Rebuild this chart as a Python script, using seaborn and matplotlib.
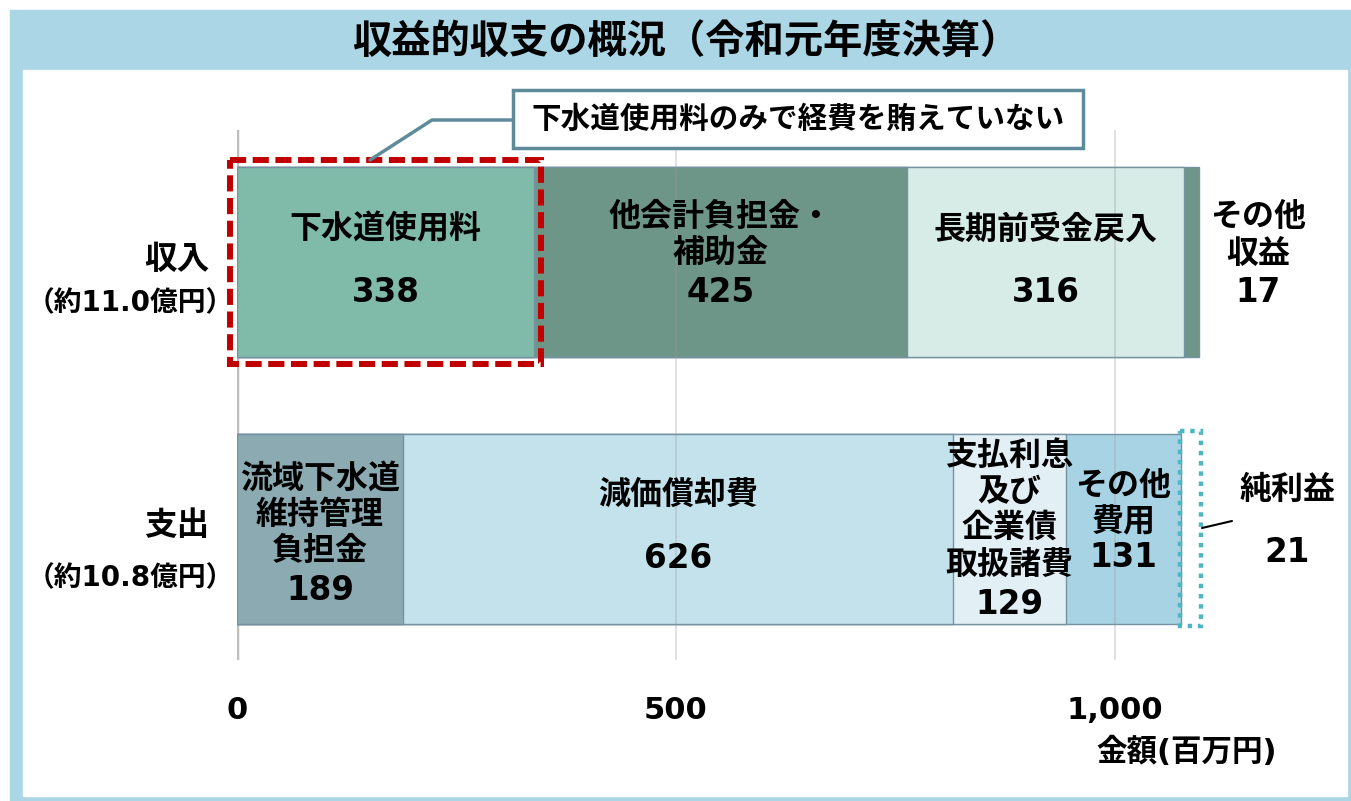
import numpy as np
import pandas as pd
import matplotlib.pyplot as plt
import seaborn as sns
from matplotlib.patches import Rectangle
from matplotlib.lines import Line2D

# ---------------------------------------------------------------------
# data (百万円)
sides = ["収入", "支出"]
side_notes = ["（約11.0億円）", "（約10.8億円）"]

income_items = ["下水道使用料", "他会計負担金・\n補助金", "長期前受金戻入", "その他\n収益"]
income_values = [338, 425, 316, 17]

expense_items = ["流域下水道\n維持管理\n負担金", "減価償却費",
                 "支払利息\n及び\n企業債\n取扱諸費", "その他\n費用", "純利益"]
expense_values = [189, 626, 129, 131, 21]

x_ticks = [0, 500, 1000]
x_tick_labels = ["0", "500", "1,000"]

# ---------------------------------------------------------------------
palette = {
    "下水道使用料": "#80BAA8", "他会計負担金・\n補助金": "#6E9688",
    "長期前受金戻入": "#D7ECE6", "その他\n収益": "#6E9688",
    "流域下水道\n維持管理\n負担金": "#8BAAB2", "減価償却費": "#C4E2EC",
    "支払利息\n及び\n企業債\n取扱諸費": "#E2F0F6", "その他\n費用": "#A7D3E4",
    "純利益": "#FFFFFF",
}
# label offsets (pixels, +down) from bar centre: name, value; and x shift
label_pos = {
    "下水道使用料": (-32, 30, 0), "他会計負担金・\n補助金": (-27, 30, 0),
    "長期前受金戻入": (-32, 30, 0), "その他\n収益": (-26, 30, 66),
    "流域下水道\n維持管理\n負担金": (-13, 62, 0), "減価償却費": (-33, 30, 0),
    "支払利息\n及び\n企業債\n取扱諸費": (-18, 76, 0), "その他\n費用": (-24, 29, 0),
    "純利益": (-38, 24, 97),
}

rows = []
for side, items, vals in [(sides[0], income_items, income_values),
                          (sides[1], expense_items, expense_values)]:
    right = np.cumsum(vals)
    for it, v, r in zip(items, vals, right):
        rows.append({"side": side, "item": it, "value": v, "right": r, "left": r - v})
df = pd.DataFrame(rows)

sns.set_theme(style="white")
# latin glyphs from DejaVu (wide digits), kanji/kana fall through to Noto CJK
plt.rcParams["font.family"] = ["DejaVu Sans", "Noto Sans CJK JP"]
plt.rcParams["font.weight"] = "bold"
plt.rcParams["text.color"] = "black"
plt.rcParams["xtick.color"] = "black"

W, H = 1351, 801
fig = plt.figure(figsize=(W / 100, H / 100), dpi=100)


def fx(x):
    return x / W


def fy(y):
    return 1 - y / H


# frame + title band
fig.add_artist(Rectangle((fx(10), 0), fx(W - 10), fy(10),
                         transform=fig.transFigure, color="#ABD6E6", zorder=-10))
fig.add_artist(Rectangle((fx(23), fy(796)), fx(1347 - 23), fy(70) - fy(796),
                         transform=fig.transFigure, color="white", zorder=-9))
fig.text(fx(686), fy(42), "収益的収支の概況（令和元年度決算）", ha="center", va="center",
         fontsize=28.3, fontweight="bold")

BAR_W = 190 / 266.5
ax = fig.add_axes([fx(237), fy(660), 1250 * 0.878 / W, 530 / H])
ax.patch.set_alpha(0)

# stacked bars: draw cumulative totals from the longest down
for _, r in df.sort_values("right", ascending=False).iterrows():
    sns.barplot(data=df[df["item"] == r["item"]], x="right", y="side", order=sides,
                orient="h", color=palette[r["item"]], saturation=1, width=BAR_W,
                edgecolor="#7592A3" if r["item"] != "純利益" else "none",
                linewidth=1, errorbar=None, ax=ax, zorder=2)

ax.set_xlim(0, 1250)
ax.set_ylim((660 - 262) / 266.5, -(262 - 130) / 266.5)
ax.set_xticks(x_ticks, x_tick_labels)
ax.set_yticks([])
ax.set_xlabel("")
ax.set_ylabel("")
sns.despine(ax=ax, left=True, bottom=True)
ax.tick_params(axis="x", length=0, pad=26, labelsize=22, labelcolor="black")
for t in ax.get_xticklabels():
    t.set_fontweight("bold")
for x in x_ticks[1:]:
    ax.axvline(x, color="#999999", alpha=0.35, lw=1.2, zorder=3)
ax.axvline(0, color="#BDBDBD", lw=2.5, zorder=1)

# labels
for _, r in df.iterrows():
    yi = sides.index(r["side"])
    ndy, vdy, dx = label_pos[r["item"]]
    xc = (r["left"] + r["right"]) / 2
    ax.annotate(r["item"], (xc, yi), xytext=(dx, -ndy), textcoords="offset pixels",
                ha="center", va="center", fontsize=23, fontweight="bold",
                linespacing=1.22, zorder=5)
    ax.annotate(f"{r['value']}", (xc, yi), xytext=(dx, -vdy), textcoords="offset pixels",
                ha="center", va="center", fontsize=23.5, fontweight="bold", zorder=5)

# highlight: 下水道使用料 (red dashed)
first = df.iloc[0]
pad_x, pad_y = 8, 0.028
ax.add_patch(Rectangle((first["left"] - pad_x, -BAR_W / 2 - pad_y),
                       first["value"] + 2 * pad_x, BAR_W + 2 * pad_y,
                       fill=False, edgecolor="#C00000", lw=4.3,
                       linestyle=(0, (2.7, 1.1)), clip_on=False, zorder=6))

# highlight: 純利益 (teal dotted)
net = df[df["item"] == "純利益"].iloc[0]
ax.add_patch(Rectangle((net["left"] - 1, 1 - BAR_W / 2 - 0.008), net["value"] + 3,
                       BAR_W + 0.016, fill=False, edgecolor="#4DB6C2", lw=3.2,
                       linestyle=(0, (1, 1.3)), clip_on=False, zorder=6))
fig.add_artist(Line2D([fx(1202), fx(1232)], [fy(528), fy(521)],
                      transform=fig.transFigure, color="black", lw=1.5))

# callout
fig.add_artist(Line2D([fx(370), fx(432), fx(513)], [fy(160), fy(120), fy(120)],
                      transform=fig.transFigure, color="#5E8B99", lw=2.5))
fig.add_artist(Rectangle((fx(513), fy(148)), fx(1083 - 513), fy(90) - fy(148),
                         transform=fig.transFigure, facecolor="white",
                         edgecolor="#5E8B99", lw=2.5))
fig.text(fx(798), fy(119), "下水道使用料のみで経費を賄えていない", ha="center",
         va="center", fontsize=21.3, fontweight="bold")

# side labels
for side, note, yc, yn in zip(sides, side_notes, [260, 526], [303, 578]):
    fig.text(fx(177), fy(yc), side, ha="center", va="center", fontsize=23.5, fontweight="bold")
    fig.text(fx(130), fy(yn), note, ha="center", va="center", fontsize=20, fontweight="bold")

fig.text(fx(1187), fy(752), "金額(百万円)", ha="center", va="center",
         fontsize=22, fontweight="bold")

fig.savefig("out.png", dpi=100)
